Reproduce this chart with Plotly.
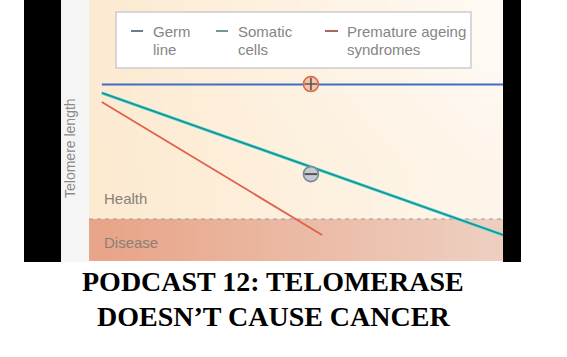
import plotly.graph_objects as go
import numpy as np

# ---- data (x = age 0..100, y = telomere length 0..100) ----
age_start = 3.1
germ_x = [3.1, 100.0]
germ_y = [67.6, 67.6]
somatic_x = [3.1, 100.0]
somatic_y = [64.4, 10.0]
premature_x = [3.1, 56.3]
premature_y = [60.9, 10.0]
plus_marker = (53.6, 67.8)
minus_marker = (53.6, 33.3)
disease_threshold = 16.1
region_labels = ["Health", "Disease"]
region_label_y = [24.1, 6.9]
legend_names = [["Germ", "line"], ["Somatic", "cells"], ["Premature ageing", "syndromes"]]
legend_dash_colors = ["#6c7c8c", "#6b9b98", "#a8685a"]
y_title = "Telomere length"
title_lines = ["PODCAST 12: TELOMERASE", "DOESN\u2019T CAUSE CANCER"]

W, H = 567, 357
L, R, T, B = 89, 503, 0, 261   # plot area in pixels


def px(x):
    return (x - L) / (R - L)


def py(y):
    return (B - y) / (B - T)


fig = go.Figure()

# background gradients (health / disease) as smooth heatmaps; cell centres chosen so
# that the bricks exactly cover each region
hx = np.linspace(5, 95, 10)
hy = [disease_threshold + (100 - disease_threshold) * f for f in (0.25, 0.75)]
hz = [[(xx / 100) * (0.55 + 0.45 * (yy - disease_threshold) / (100 - disease_threshold)) for xx in hx] for yy in hy]
fig.add_trace(go.Heatmap(x=hx, y=hy, z=hz, zmin=0, zmax=1, zsmooth="best",
                         colorscale=[[0, "#fcead0"], [1, "#fffcf9"]], showscale=False,
                         hoverinfo="skip"))
dy = [disease_threshold * 0.25, disease_threshold * 0.75]
dz = [[xx / 100 for xx in hx] for yy in dy]
fig.add_trace(go.Heatmap(x=hx, y=dy, z=dz, zmin=0, zmax=1, zsmooth="best",
                         colorscale=[[0, "#e8a386"], [1, "#eed0c2"]], showscale=False,
                         hoverinfo="skip"))

# threshold
fig.add_trace(go.Scatter(x=[0, 100], y=[disease_threshold] * 2, mode="lines",
                         line=dict(color="#9a9a9a", width=1.2, dash="4px,4px"), hoverinfo="skip"))

# lines
fig.add_trace(go.Scatter(x=germ_x, y=germ_y, mode="lines", line=dict(color="#3f6fc2", width=2)))
fig.add_trace(go.Scatter(x=somatic_x, y=somatic_y, mode="lines", line=dict(color="#5ee6e6", width=3.2)))
fig.add_trace(go.Scatter(x=somatic_x, y=somatic_y, mode="lines", line=dict(color="#24908e", width=1.7)))
fig.add_trace(go.Scatter(x=premature_x, y=premature_y, mode="lines", line=dict(color="#e0604c", width=1.8)))

# + and - markers
fig.add_trace(go.Scatter(x=[plus_marker[0]], y=[plus_marker[1]], mode="markers",
                         marker=dict(symbol="circle", size=15, color="#f4c4aa",
                                     line=dict(color="#d9674b", width=1.6))))
fig.add_trace(go.Scatter(x=[plus_marker[0]], y=[plus_marker[1]], mode="markers",
                         marker=dict(symbol="cross-thin", size=9, line=dict(color="#555555", width=1.6))))
fig.add_trace(go.Scatter(x=[minus_marker[0]], y=[minus_marker[1]], mode="markers",
                         marker=dict(symbol="circle", size=15, color="#c6cbd3",
                                     line=dict(color="#7f8996", width=1.6))))
fig.add_trace(go.Scatter(x=[minus_marker[0]], y=[minus_marker[1]], mode="markers",
                         marker=dict(symbol="line-ew", size=9, line=dict(color="#555555", width=2))))

shapes = []
# black side bars and light strip
shapes.append(dict(type="rect", xref="paper", yref="paper", x0=px(24), x1=px(61), y0=py(262), y1=py(0),
                   fillcolor="black", line=dict(width=0)))
shapes.append(dict(type="rect", xref="paper", yref="paper", x0=px(61), x1=px(89), y0=py(262), y1=py(0),
                   fillcolor="#f5f5f5", line=dict(width=0)))
shapes.append(dict(type="rect", xref="paper", yref="paper", x0=px(503), x1=px(521), y0=py(262), y1=py(0),
                   fillcolor="black", line=dict(width=0)))
# legend box
shapes.append(dict(type="rect", xref="paper", yref="paper", x0=px(116), x1=px(471), y0=py(68), y1=py(12),
                   fillcolor="white", line=dict(color="#cccccc", width=1.5)))
dash_x = [(131, 143), (216, 228), (325, 338)]
text_x = [151, 236, 345]
annotations = []
for i, names in enumerate(legend_names):
    shapes.append(dict(type="line", xref="paper", yref="paper", x0=px(dash_x[i][0]), x1=px(dash_x[i][1]),
                       y0=py(31), y1=py(31), line=dict(color=legend_dash_colors[i], width=2)))
    for j, nm in enumerate(names):
        annotations.append(dict(text=nm, xref="paper", yref="paper", x=px(text_x[i]), y=py(31 + 18 * j),
                                xanchor="left", yanchor="middle", showarrow=False,
                                font=dict(family="Liberation Sans", size=15, color="#858585")))

# region labels
for lab, yy in zip(region_labels, region_label_y):
    annotations.append(dict(text=lab, x=age_start, y=yy, xref="x", yref="y", xanchor="left",
                            yanchor="middle", showarrow=False,
                            font=dict(family="Liberation Sans", size=15, color="#8a8079")))

# y title
annotations.append(dict(text=y_title, xref="paper", yref="paper", x=px(70), y=py(148), textangle=-90,
                        xanchor="center", yanchor="middle", showarrow=False,
                        font=dict(family="Liberation Sans", size=14, color="#8a8a8a")))

# caption title
for k, line in enumerate(title_lines):
    annotations.append(dict(text="<b>" + line + "</b>", xref="paper", yref="paper", x=px(273),
                            y=py(281 + 35 * k), xanchor="center", yanchor="middle", showarrow=False,
                            font=dict(family="Liberation Serif", size=28, color="black")))

fig.update_layout(
    width=W, height=H,
    margin=dict(l=L, r=W - R, t=T, b=H - B, pad=0),
    paper_bgcolor="white", plot_bgcolor="#fdeed5",
    showlegend=False,
    xaxis=dict(range=[0, 100], visible=False, fixedrange=True),
    yaxis=dict(range=[0, 100], visible=False, fixedrange=True),
    shapes=shapes, annotations=annotations,
)

fig.write_html("out.html", config={"displayModeBar": False},
               post_script="document.body.style.margin='0px';")
